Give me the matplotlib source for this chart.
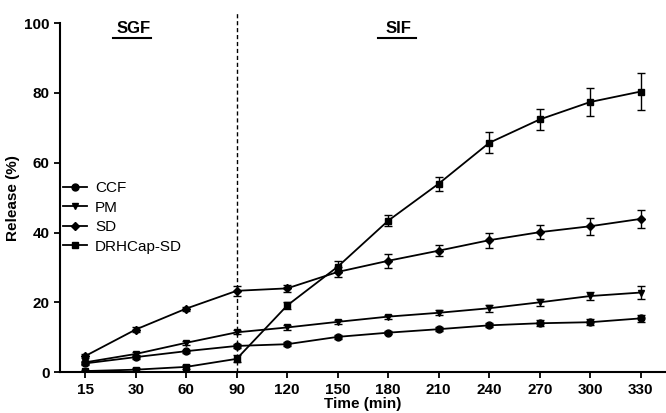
import matplotlib
matplotlib.use("Agg")
import matplotlib.pyplot as plt
from matplotlib.lines import Line2D
import numpy as np

plt.rcParams['font.family'] = ['Liberation Sans', 'DejaVu Sans']

# donnees
times = ["15", "30", "60", "90", "120", "150", "180", "210", "240", "270", "300", "330"]

ccf = [2.5, 4.3, 6.0, 7.5, 8.0, 10.1, 11.3, 12.3, 13.4, 14.0, 14.3, 15.4]
ccf_err = [0.5, 0.5, 0.4, 0.5, 0.5, 0.5, 0.5, 0.5, 0.6, 0.8, 0.8, 1.0]

pm = [2.8, 5.2, 8.4, 11.4, 12.8, 14.4, 15.9, 17.0, 18.3, 20.0, 21.8, 22.8]
pm_err = [0.5, 0.5, 0.5, 0.6, 0.6, 0.6, 0.6, 0.7, 1.0, 1.0, 1.2, 1.8]

sd = [4.6, 12.2, 18.2, 23.3, 24.0, 28.7, 31.9, 34.8, 37.8, 40.1, 41.8, 43.9]
sd_err = [0.5, 0.6, 0.6, 1.5, 1.0, 1.5, 2.0, 1.6, 2.2, 2.0, 2.5, 2.5]

drh = [0.3, 0.7, 1.5, 3.8, 19.1, 30.2, 43.4, 54.0, 65.7, 72.4, 77.4, 80.4]
drh_err = [0.3, 0.4, 0.5, 1.0, 1.0, 1.5, 1.5, 2.0, 3.0, 3.0, 3.9, 5.2]

series = [
    ("CCF", ccf, ccf_err, "o"),
    ("PM", pm, pm_err, "v"),
    ("SD", sd, sd_err, "D"),
    ("DRHCap-SD", drh, drh_err, "s"),
]

fig = plt.figure(figsize=(6.66, 4.13), dpi=100)
ax = fig.add_axes([0.090, 0.099, 0.91, 0.845])

x = np.arange(len(times))
handles = []
for name, vals, err, mk in series:
    ms = 5 if mk != "D" else 4.5
    ax.errorbar(x, vals, yerr=err, color="black", marker=mk,
                markersize=ms, linewidth=1.3,
                elinewidth=1.0, capsize=3, capthick=1.0)
    handles.append(Line2D([], [], color="black", marker=mk, markersize=ms,
                          linewidth=1.3, label=name))

# limite SGF / SIF
ax.plot([3, 3], [0, 103], linestyle=(0, (3, 2)), color="black",
        linewidth=1.0, clip_on=False)

ax.text(0.95, 98.6, "SGF", ha="center", va="center", fontsize=12, weight="bold")
ax.plot([0.55, 1.3], [95.7, 95.7], color="black", linewidth=1.5)
ax.text(6.2, 98.6, "SIF", ha="center", va="center", fontsize=12, weight="bold")
ax.plot([5.8, 6.55], [95.7, 95.7], color="black", linewidth=1.5)

ax.set_xlim(-0.5, 11.5)
ax.set_ylim(0, 100)
ax.set_xticks(x)
ax.set_xticklabels(times)
ax.set_yticks([0, 20, 40, 60, 80, 100])

for s in ["top", "right"]:
    ax.spines[s].set_visible(False)
for s in ["left", "bottom"]:
    ax.spines[s].set_linewidth(1.5)
ax.tick_params(axis="both", width=1.3, length=4, labelsize=11, direction="out")
for lab in ax.get_xticklabels() + ax.get_yticklabels():
    lab.set_fontweight("bold")

ax.set_xlabel("Time (min)", fontsize=11, weight="bold", labelpad=0)
ax.set_ylabel("Release (%)", fontsize=11, weight="bold", labelpad=3)

ax.legend(handles=handles, loc="upper left", bbox_to_anchor=(-0.005, 0.565),
          frameon=False, fontsize=11, handlelength=1.6, handletextpad=0.5,
          labelspacing=0.36, borderaxespad=0)

fig.savefig("out.png", dpi=100)
